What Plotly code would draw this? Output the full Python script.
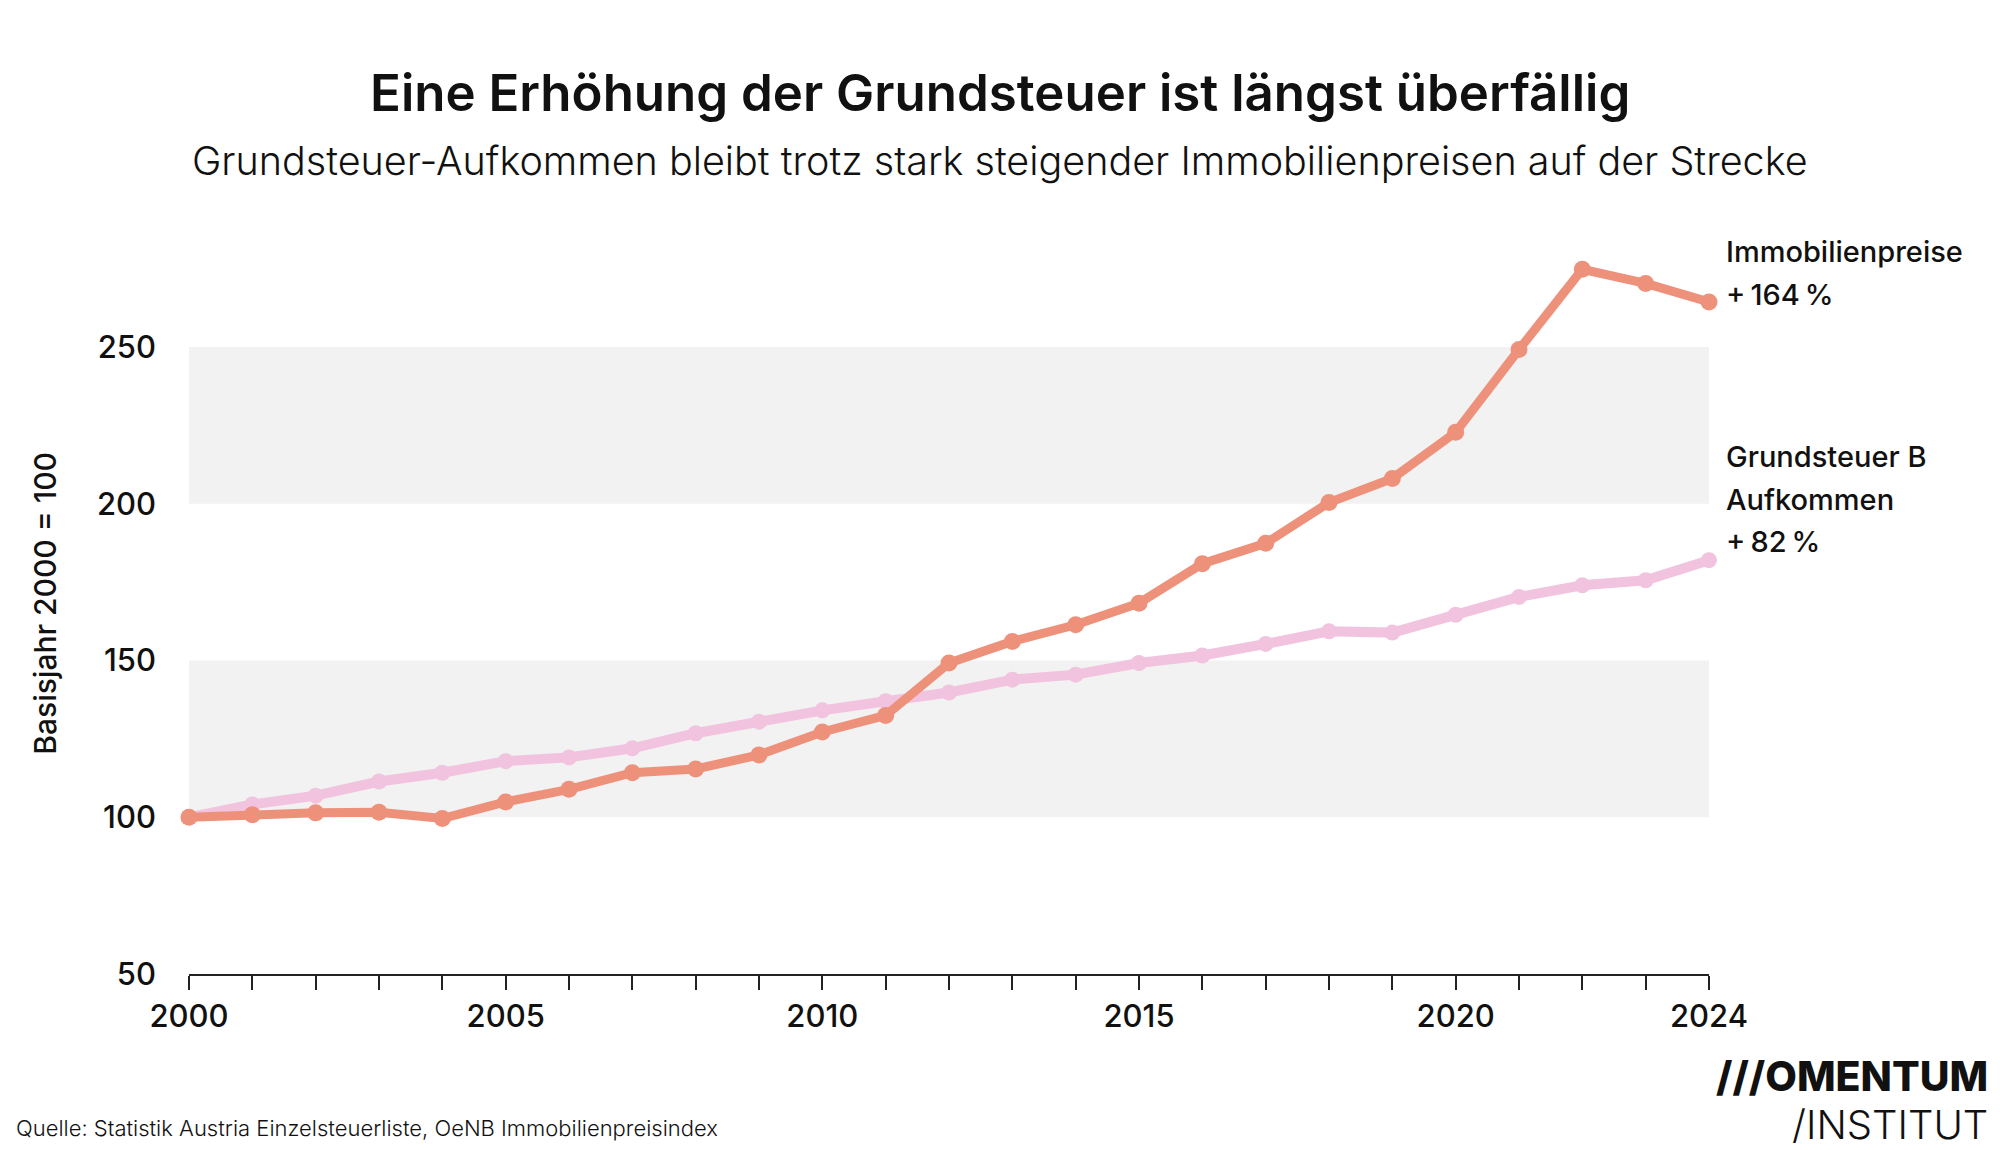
import plotly.graph_objects as go

years = list(range(2000, 2025))
immobilienpreise = [100, 100.8, 101.4, 101.6, 99.6, 104.9, 108.9, 114.2, 115.4, 119.9,
                    127.2, 132.5, 149.2, 156.1, 161.4, 168.3, 180.9, 187.4, 200.4, 208.1,
                    222.8, 249.2, 274.8, 270.3, 264.4]
grundsteuer = [100, 104.1, 106.9, 111.4, 114.2, 117.9, 119.1, 122.0, 126.8, 130.5,
               134.1, 137.0, 139.8, 143.9, 145.5, 149.2, 151.6, 155.3, 159.3, 158.9,
               164.6, 170.3, 174.0, 175.6, 182.0]
y_ticks = [50, 100, 150, 200, 250]
x_label_years = [2000, 2005, 2010, 2015, 2020, 2024]
bands = [(100, 150), (200, 250)]

ORANGE = "#ee917b"
PINK = "#f1c3df"
FONT = "Inter"

OFF = 8  # default page margin of the browser
W, H = 2000 - OFF, 1150 - OFF
L, R = 189 - OFF, 1709 - OFF      # plot left/right in figure px
T, B = 253 - OFF, 974.5 - OFF     # plot top/bottom in figure px
PW, PH = R - L, B - T


def px(xs):
    return (xs - OFF - L) / PW


def py(ys):
    return (B - (ys - OFF)) / PH


fig = go.Figure()

for y0, y1 in bands:
    fig.add_shape(type="rect", xref="x", yref="y", x0=2000, x1=2024, y0=y0, y1=y1,
                  fillcolor="#f2f2f2", line_width=0, layer="below")

fig.add_trace(go.Scatter(x=years, y=grundsteuer, mode="lines+markers",
                         line=dict(color=PINK, width=10),
                         marker=dict(color=PINK, size=16),
                         cliponaxis=False, showlegend=False, hoverinfo="x+y"))
fig.add_trace(go.Scatter(x=years, y=immobilienpreise, mode="lines+markers",
                         line=dict(color=ORANGE, width=9),
                         marker=dict(color=ORANGE, size=17),
                         cliponaxis=False, showlegend=False, hoverinfo="x+y"))

ticktext = [str(y) if y in x_label_years else "" for y in years]

fig.update_layout(
    width=W, height=H,
    margin=dict(l=L, r=W - R, t=T, b=H - B, pad=0),
    paper_bgcolor="white", plot_bgcolor="white",
    font=dict(family=FONT, color="#111111"),
    xaxis=dict(range=[2000, 2024], tickvals=years, ticktext=ticktext,
               ticks="outside", ticklen=14, tickwidth=1.5, tickcolor="#222",
               showline=True, linecolor="#222", linewidth=1.5,
               showgrid=False, zeroline=False,
               tickfont=dict(size=31, family=FONT, weight=500, color="#111")),
    yaxis=dict(range=[50, 280], tickvals=y_ticks, showgrid=False, zeroline=False,
               showline=False, ticks="", ticklabelstandoff=32,
               tickfont=dict(size=31, family=FONT, weight=500, color="#111")),
)

texts = [
    dict(text="Eine Erhöhung der Grundsteuer ist längst überfällig", x=1000, y=92,
         xanchor="center", font=dict(size=51, family=FONT, weight=600, color="#111")),
    dict(text="Grundsteuer-Aufkommen bleibt trotz stark steigender Immobilienpreisen auf der Strecke",
         x=1000, y=161, xanchor="center",
         font=dict(size=39.5, family=FONT, weight=300, color="#111")),
    dict(text="Quelle: Statistik Austria Einzelsteuerliste, OeNB Immobilienpreisindex",
         x=14, y=1129, xanchor="left",
         font=dict(size=22, family=FONT, weight=300, color="#111")),
    dict(text="///OMENTUM", x=1990, y=1077, xanchor="right",
         font=dict(size=41, family=FONT, weight=800, color="#111")),
    dict(text="/INSTITUT", x=1990, y=1125, xanchor="right",
         font=dict(size=40, family=FONT, weight=300, color="#111")),
]
side_labels = [("Immobilienpreise", 251), ("+\u2009164\u2009%", 295),
               ("Grundsteuer B", 457), ("Aufkommen", 500), ("+\u200982\u2009%", 542)]
for txt, ypx in side_labels:
    texts.append(dict(text=txt, x=1724, y=ypx, xanchor="left",
                      font=dict(size=29, family=FONT, weight=500, color="#111")))

for a in texts:
    fig.add_annotation(text=a["text"], xref="paper", yref="paper",
                       x=px(a["x"]), y=py(a["y"]), showarrow=False,
                       xanchor=a["xanchor"], yanchor="middle", font=a["font"])

fig.add_annotation(text="Basisjahr 2000 = 100", xref="paper", yref="paper",
                   x=px(45), y=py(604), textangle=-90,
                   showarrow=False, xanchor="center", yanchor="middle",
                   font=dict(size=30, family=FONT, weight=500, color="#111"))

fig.write_html("out.html")
